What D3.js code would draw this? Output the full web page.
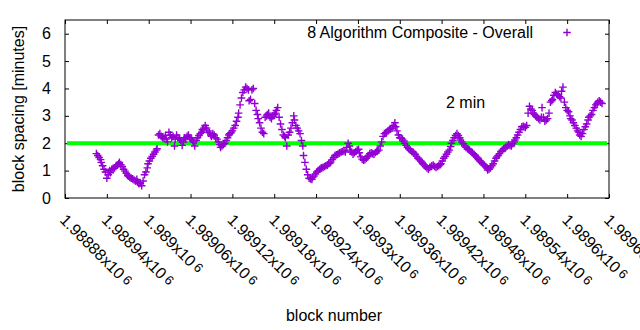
<!DOCTYPE html>
<html>
<head>
<meta charset="utf-8">
<script src="https://cdn.jsdelivr.net/npm/d3@7"></script>
<style>
  body { margin: 0; background: #fff; }
  text { font-family: "Liberation Sans", Arial, sans-serif; }
</style>
</head>
<body>
<svg id="chart" width="640" height="330"></svg>
<script>
// ---- data ----
const blockFirst = 1988925;
const blockLast = 1989650;
const spacingValues = [
  1.62, 1.55, 1.48, 1.40, 1.30, 1.18, 1.05, 0.95, 0.72, 0.85,
  1.00, 0.92, 1.05, 1.08, 1.10, 1.15, 1.20, 1.25, 1.30, 1.22,
  1.15, 1.05, 0.98, 0.90, 0.82, 0.80, 0.75, 0.72, 0.70, 0.66,
  0.62, 0.68, 0.58, 0.52, 0.55, 0.45, 0.62, 0.85, 0.95, 1.10,
  1.25, 1.35, 1.45, 1.52, 1.60, 1.68, 1.75, 1.80, 2.30, 2.35,
  2.25, 2.20, 2.18, 2.28, 2.15, 2.05, 2.40, 2.30, 2.20, 2.25,
  1.90, 2.15, 2.30, 2.20, 2.15, 2.10, 1.92, 2.05, 2.20, 2.15,
  2.25, 2.30, 2.20, 2.15, 2.10, 2.05, 1.90, 2.10, 2.20, 2.28,
  2.35, 2.40, 2.50, 2.55, 2.65, 2.55, 2.45, 2.38, 2.30, 2.25,
  2.35, 2.30, 2.20, 2.15, 2.05, 1.95, 1.85, 1.90, 1.95, 2.00,
  2.10, 2.20, 2.30, 2.35, 2.38, 2.45, 2.55, 2.65, 2.80, 2.95,
  3.10, 3.40, 3.65, 3.85, 3.95, 4.05, 4.00, 3.95, 3.55, 3.60,
  3.95, 4.00, 3.45, 3.20, 3.05, 2.90, 2.75, 2.55, 2.40, 2.35,
  2.95, 3.00, 3.05, 3.10, 2.95, 2.90, 3.00, 3.05, 3.10, 3.20,
  3.30, 2.95, 2.70, 2.50, 2.30, 2.25, 2.20, 1.90, 2.30, 2.40,
  2.55, 2.75, 3.00, 2.85, 2.65, 2.55, 2.45, 2.35, 2.10, 1.90,
  1.55, 1.30, 1.05, 0.85, 0.72, 0.70, 0.68, 0.75, 0.80, 0.88,
  0.95, 1.00, 1.05, 1.08, 1.10, 1.12, 1.15, 1.18, 1.20, 1.25,
  1.28, 1.32, 1.40, 1.48, 1.55, 1.58, 1.60, 1.63, 1.65, 1.68,
  1.70, 1.72, 1.68, 1.85, 2.00, 1.90, 1.75, 1.68, 1.60, 1.65,
  1.70, 1.75, 1.78, 1.65, 1.50, 1.42, 1.38, 1.40, 1.45, 1.50,
  1.55, 1.62, 1.65, 1.62, 1.60, 1.66, 1.70, 1.72, 1.75, 1.90,
  2.05, 2.25, 2.35, 2.38, 2.40, 2.45, 2.50, 2.52, 2.55, 2.65,
  2.75, 2.60, 2.45, 2.30, 2.20, 2.18, 2.15, 2.08, 2.00, 1.92,
  1.85, 1.80, 1.75, 1.70, 1.68, 1.64, 1.60, 1.52, 1.45, 1.40,
  1.35, 1.30, 1.25, 1.20, 1.15, 1.10, 1.05, 1.12, 1.15, 1.18,
  1.20, 1.15, 1.12, 1.15, 1.18, 1.22, 1.25, 1.35, 1.45, 1.52,
  1.60, 1.68, 1.75, 1.88, 2.00, 2.10, 2.20, 2.28, 2.35, 2.28,
  2.20, 2.12, 2.05, 1.98, 1.90, 1.85, 1.80, 1.78, 1.75, 1.70,
  1.65, 1.60, 1.55, 1.50, 1.45, 1.40, 1.35, 1.30, 1.25, 1.20,
  1.15, 1.10, 1.02, 1.05, 1.10, 1.18, 1.25, 1.35, 1.45, 1.50,
  1.55, 1.62, 1.70, 1.75, 1.80, 1.82, 1.85, 1.90, 1.95, 1.92,
  1.90, 1.98, 2.05, 2.12, 2.20, 2.30, 2.40, 2.50, 2.60, 2.62,
  2.60, 2.58, 2.65, 3.10, 3.35, 3.25, 3.20, 3.10, 3.05, 3.00,
  2.95, 2.90, 2.85, 2.95, 3.30, 2.95, 2.80, 2.85, 2.90, 3.10,
  3.50, 3.55, 3.60, 3.75, 3.85, 3.80, 3.75, 3.70, 3.65, 3.90,
  4.05, 3.50, 3.30, 3.20, 3.15, 3.00, 2.90, 2.85, 2.75, 2.65,
  2.55, 2.45, 2.40, 2.30, 2.25, 2.35, 2.50, 2.60, 2.70, 2.85,
  2.95, 3.00, 3.05, 3.20, 3.30, 3.40, 3.45, 3.50, 3.55, 3.50,
  3.45
];
const xTickValues = [1988880, 1988940, 1989000, 1989060, 1989120, 1989180, 1989240,
                     1989300, 1989360, 1989420, 1989480, 1989540, 1989600, 1989660];
const xTickLabels = ["1.98888", "1.98894", "1.989", "1.98906", "1.98912", "1.98918", "1.98924",
                     "1.9893", "1.98936", "1.98942", "1.98948", "1.98954", "1.9896", "1.98966"];
const yTickValues = [0, 1, 2, 3, 4, 5, 6];
const targetMinutes = 2;
const seriesName = "8 Algorithm Composite - Overall";

// ---- layout ----
const L = 65, R = 609, T = 20, B = 198;
const svg = d3.select("#chart");
const x = d3.scaleLinear().domain([1988880, 1989660]).range([L, R]);
const y = d3.scaleLinear().domain([0, 6.5]).range([B, T]);
const purple = "#9400d3";

// axes (ticks inward)
const gl = svg.append("g").attr("transform", `translate(${L},0)`)
  .call(d3.axisLeft(y).tickValues(yTickValues).tickSize(-4).tickPadding(14).tickFormat(d3.format("d")));
const gr = svg.append("g").attr("transform", `translate(${R},0)`)
  .call(d3.axisRight(y).tickValues(yTickValues).tickSize(-4).tickFormat(""));
const gb = svg.append("g").attr("transform", `translate(0,${B})`)
  .call(d3.axisBottom(x).tickValues(xTickValues).tickSize(-4).tickFormat(""));
const gt = svg.append("g").attr("transform", `translate(0,${T})`)
  .call(d3.axisTop(x).tickValues(xTickValues).tickSize(-4).tickFormat(""));
[gl, gr, gb, gt].forEach(g => {
  g.select(".domain").remove();
  g.selectAll(".tick line").attr("stroke", "#000");
  g.selectAll(".tick text").attr("font-size", 16).attr("fill", "#000")
    .attr("font-family", "Liberation Sans, Arial, sans-serif");
});

// rotated x tick labels (the last one runs past the right edge, as in the original)
const xl = svg.append("g");
xTickValues.forEach((v, i) => {
  const t = xl.append("text")
    .attr("transform", `translate(${x(v) - 6},221) rotate(45)`)
    .attr("font-size", 16).attr("fill", "#000");
  t.append("tspan").text(xTickLabels[i] + "x10");
  t.append("tspan").attr("font-size", 13).attr("dx", 3).attr("dy", -2).text("6");
});

// frame
svg.append("rect").attr("x", L).attr("y", T).attr("width", R - L).attr("height", B - T)
  .attr("fill", "none").attr("stroke", "#000").attr("stroke-width", 1);

// green 2-min line
svg.append("line")
  .attr("x1", L + 2).attr("x2", R - 2)
  .attr("y1", y(targetMinutes)).attr("y2", y(targetMinutes))
  .attr("stroke", "#00ff00").attr("stroke-width", 4);

// points (block numbers spread evenly over the sampled range)
const n = spacingValues.length;
const data = spacingValues.map((v, i) => ({
  b: Math.round(blockFirst + i * (blockLast - blockFirst) / (n - 1)), v
}));
const plus = (cx, cy, s) => `M${cx - s},${cy}H${cx + s}M${cx},${cy - s}V${cy + s}`;
svg.append("g").selectAll("path").data(data).join("path")
  .attr("d", d => plus(x(d.b), y(d.v), 3.8))
  .attr("stroke", purple).attr("stroke-width", 1.4).attr("fill", "none");

// legend
svg.append("text").attr("x", 533).attr("y", 38).attr("text-anchor", "end")
  .attr("font-size", 16).attr("fill", "#000").text(seriesName);
svg.append("path").attr("d", plus(567, 32.5, 3.8))
  .attr("stroke", purple).attr("stroke-width", 1.4).attr("fill", "none");

// annotation
svg.append("text").attr("x", 446).attr("y", 107.5)
  .attr("font-size", 16).attr("fill", "#000").text(targetMinutes + " min");

// axis titles
svg.append("text").attr("x", 334).attr("y", 321).attr("text-anchor", "middle")
  .attr("font-size", 16).attr("fill", "#000").text("block number");
svg.append("text").attr("transform", "translate(24,109) rotate(-90)").attr("text-anchor", "middle")
  .attr("font-size", 16).attr("fill", "#000").text("block spacing [minutes]");
</script>
</body>
</html>
